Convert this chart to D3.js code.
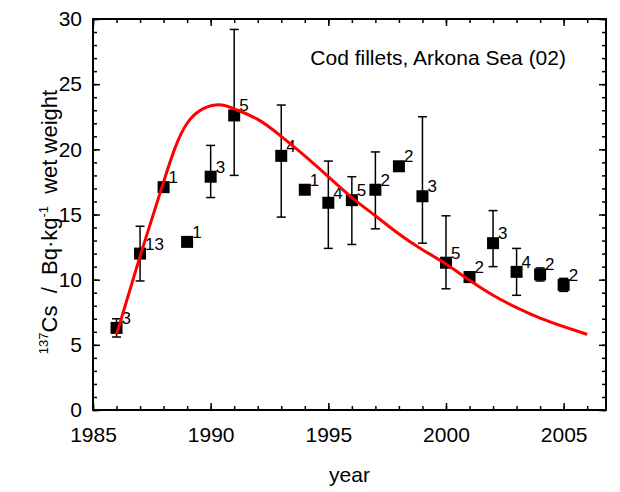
<!DOCTYPE html>
<html>
<head>
<meta charset="utf-8">
<script src="https://cdn.jsdelivr.net/npm/d3@7"></script>
<style>
  body { margin: 0; background: #fff; }
  svg { display: block; font-family: "Liberation Sans", Arial, sans-serif; }
</style>
</head>
<body>
<svg id="chart" width="620" height="492"></svg>
<script>
// measured years, means, error bar ends and sample counts
const years   = [1986, 1987, 1988, 1989, 1990, 1991, 1993, 1994, 1995, 1996, 1997, 1998, 1999, 2000, 2001, 2002, 2003, 2004, 2005];
const values  = [6.3, 12.0, 17.1, 12.9, 17.9, 22.6, 19.5, 16.9, 15.9, 16.1, 16.9, 18.7, 16.4, 11.3, 10.2, 12.8, 10.6, 10.4, 9.6];
const errLow  = [5.6, 9.9, null, null, 16.3, 18.0, 14.8, null, 12.4, 12.7, 13.9, null, 12.8, 9.3, 9.9, 11.0, 8.8, 9.9, 9.1];
const errHigh = [7.0, 14.1, null, null, 20.3, 29.2, 23.4, null, 19.1, 17.9, 19.8, null, 22.5, 14.9, 10.6, 15.3, 12.4, 10.9, 10.1];
const counts  = ["3", "13", "1", "1", "3", "5", "4", "1", "4", "5", "2", "2", "3", "5", "2", "3", "4", "2", "2"];

// fitted model curve
const fitYears  = [1986, 1987, 1988, 1989, 1990.2, 1991, 1992, 1993, 1994, 1995, 1996, 1997, 1998, 1999, 2000, 2001, 2002, 2003, 2004, 2005, 2006];
const fitValues = [5.8, 11.8, 17.5, 22.0, 23.4, 23.1, 22.3, 21.0, 19.5, 17.9, 16.3, 14.9, 13.5, 12.3, 11.2, 9.95, 8.8, 7.85, 7.05, 6.4, 5.8];

const xTicks = [1985, 1990, 1995, 2000, 2005];
const yTicks = [0, 5, 10, 15, 20, 25, 30];

const margin = { top: 19, right: 14, bottom: 82, left: 93 };
const width = 620 - margin.left - margin.right;
const height = 492 - margin.top - margin.bottom;

const svg = d3.select("#chart");
const g = svg.append("g").attr("transform", `translate(${margin.left},${margin.top})`);

const x = d3.scaleLinear().domain([1985, 2006.8]).range([0, width]);
const y = d3.scaleLinear().domain([0, 30]).range([height, 0]);

const minorX = d3.range(1985, 2007, 1);
const minorY = d3.range(0, 31, 1);

// minor ticks, inside the frame on all four sides
g.append("g").call(d3.axisBottom(x).tickValues(minorX).tickSize(-4).tickFormat(""))
  .attr("transform", `translate(0,${height})`);
g.append("g").call(d3.axisTop(x).tickValues(minorX).tickSize(-4).tickFormat(""));
g.append("g").call(d3.axisLeft(y).tickValues(minorY).tickSize(-4).tickFormat(""));
g.append("g").call(d3.axisRight(y).tickValues(minorY).tickSize(-4).tickFormat(""))
  .attr("transform", `translate(${width},0)`);

// major ticks with labels
g.append("g").attr("class", "xmaj")
  .attr("transform", `translate(0,${height})`)
  .call(d3.axisBottom(x).tickValues(xTicks).tickSize(-7).tickPadding(17).tickFormat(d3.format("d")));
g.append("g").call(d3.axisTop(x).tickValues(xTicks).tickSize(-7).tickFormat(""));
g.append("g").attr("class", "ymaj")
  .call(d3.axisLeft(y).tickValues(yTicks).tickSize(-7).tickPadding(11).tickFormat(d3.format("d")));
g.append("g").attr("transform", `translate(${width},0)`)
  .call(d3.axisRight(y).tickValues(yTicks).tickSize(-7).tickFormat(""));

g.selectAll(".tick line").attr("stroke", "#000").attr("stroke-width", 1.5);
g.selectAll(".domain").remove();
g.selectAll(".xmaj text, .ymaj text")
  .attr("font-size", "21px").attr("fill", "#000")
  .style("font-family", "Liberation Sans, Arial, sans-serif");

// frame
g.append("rect")
  .attr("width", width).attr("height", height)
  .attr("fill", "none").attr("stroke", "#000").attr("stroke-width", 2);

const pts = years.map((yr, i) => ({ yr, v: values[i], lo: errLow[i], hi: errHigh[i], n: counts[i] }));

// error bars
const eb = g.selectAll(".eb").data(pts.filter(d => d.lo !== null)).enter().append("g")
  .attr("stroke", "#000").attr("stroke-width", 1.5);
eb.append("line").attr("x1", d => x(d.yr)).attr("x2", d => x(d.yr))
  .attr("y1", d => y(d.lo)).attr("y2", d => y(d.hi));
eb.append("line").attr("x1", d => x(d.yr) - 4.5).attr("x2", d => x(d.yr) + 4.5)
  .attr("y1", d => y(d.lo)).attr("y2", d => y(d.lo));
eb.append("line").attr("x1", d => x(d.yr) - 4.5).attr("x2", d => x(d.yr) + 4.5)
  .attr("y1", d => y(d.hi)).attr("y2", d => y(d.hi));

// squares
g.selectAll(".pt").data(pts).enter().append("rect")
  .attr("x", d => x(d.yr) - 6).attr("y", d => y(d.v) - 6)
  .attr("width", 12).attr("height", 12).attr("fill", "#000");

// sample counts
g.selectAll(".cnt").data(pts).enter().append("text")
  .attr("x", d => x(d.yr) + 5).attr("y", d => y(d.v) - 4)
  .attr("font-size", "17px").attr("fill", "#000")
  .text(d => d.n);

// fitted curve
const line = d3.line().x(d => x(d[0])).y(d => y(d[1])).curve(d3.curveNatural);
g.append("path")
  .datum(fitYears.map((yr, i) => [yr, fitValues[i]]))
  .attr("fill", "none").attr("stroke", "#ff0000").attr("stroke-width", 3)
  .attr("d", line);

// annotation
g.append("text")
  .attr("x", x(2005.1)).attr("y", 46)
  .attr("text-anchor", "end").attr("font-size", "21px")
  .text("Cod fillets, Arkona Sea (02)");

// axis titles
svg.append("text")
  .attr("x", margin.left + width / 2).attr("y", 482)
  .attr("text-anchor", "middle").attr("font-size", "21px")
  .text("year");

const yl = svg.append("text")
  .attr("transform", "translate(57,222) rotate(-90)")
  .attr("text-anchor", "middle").attr("font-size", "22px")
  .style("white-space", "pre");
yl.append("tspan").attr("font-size", "13px").attr("dy", "-9").text("137");
yl.append("tspan").attr("dy", "9").text("Cs  /  Bq·kg");
yl.append("tspan").attr("font-size", "13px").attr("dy", "-9").text("-1");
yl.append("tspan").attr("dy", "9").text("  wet weight");
</script>
</body>
</html>
